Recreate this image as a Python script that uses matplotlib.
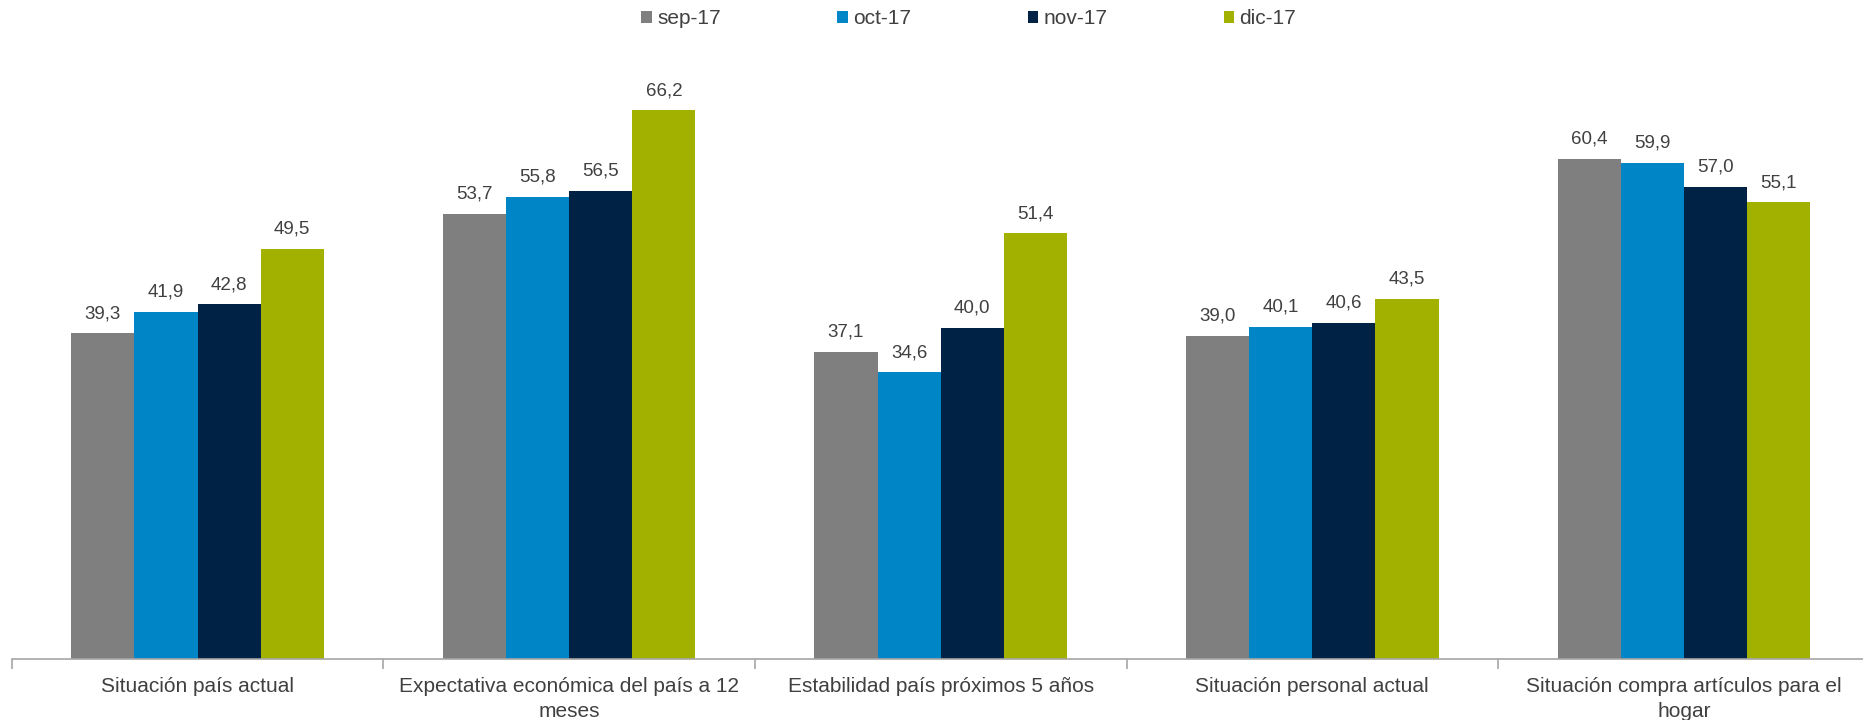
import matplotlib
matplotlib.use("Agg")
import matplotlib.pyplot as plt
import numpy as np

categories = ["Situación país actual",
              "Expectativa económica del país a 12\nmeses",
              "Estabilidad país próximos 5 años",
              "Situación personal actual",
              "Situación compra artículos para el\nhogar"]
series_names = ["sep-17", "oct-17", "nov-17", "dic-17"]
sep17 = [39.3, 53.7, 37.1, 39.0, 60.4]
oct17 = [41.9, 55.8, 34.6, 40.1, 59.9]
nov17 = [42.8, 56.5, 40.0, 40.6, 57.0]
dic17 = [49.5, 66.2, 51.4, 43.5, 55.1]
series = [sep17, oct17, nov17, dic17]
colors = ["#7F7F7F", "#0086C6", "#002244", "#A2B000"]

plt.rcParams['font.family'] = ['Liberation Sans', 'DejaVu Sans']

fig = plt.figure(figsize=(18.63, 7.2), dpi=100)
ax = fig.add_axes([11.7/1863, 61/720, 1 - 11.7/1863, 580/720])

x = np.arange(len(categories))
bw = 0.17
for i, (vals, c, name) in enumerate(zip(series, colors, series_names)):
    pos = x + (i - 1.5) * bw
    ax.bar(pos, vals, width=bw, color=c, label=name, zorder=2)
    for p, v in zip(pos, vals):
        ax.annotate(f"{v:.1f}".replace(".", ","), (p, v), xytext=(0, 8),
                    textcoords="offset points", ha="center", va="bottom",
                    fontsize=13.5, color="#404040")

ax.set_ylim(0, 70)
ax.set_xlim(-0.5, -0.5 + (1863 - 11.7) / 371.6)
for s in ["top", "right", "left"]:
    ax.spines[s].set_visible(False)
ax.spines["bottom"].set_color("#A6A6A6")
ax.spines["bottom"].set_linewidth(1.2)
ax.set_yticks([])
ax.set_xticks(np.arange(-0.5, 4.0, 1.0))
ax.set_xticklabels([])
ax.set_xticks(x, minor=True)
ax.set_xticklabels(categories, minor=True, fontsize=15, color="#404040",
                   linespacing=1.4)
ax.tick_params(axis="x", which="major", length=7, color="#A6A6A6", width=1.2)
ax.tick_params(axis="x", which="minor", length=0, pad=13)

fig.legend(loc="upper center", bbox_to_anchor=(0.52, 1.013), ncol=4, frameon=False,
           fontsize=15, handlelength=0.5, handleheight=0.5, handletextpad=0.25,
           columnspacing=5.6, labelcolor="#404040")

fig.savefig("out.png", dpi=100)
